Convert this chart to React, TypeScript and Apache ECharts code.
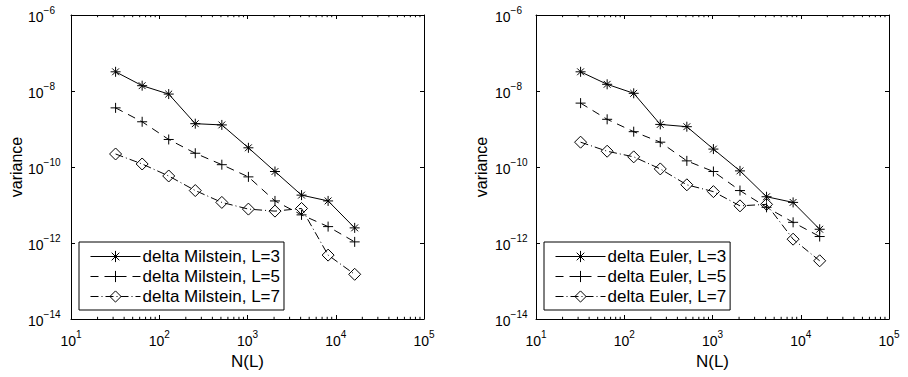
import React, { useEffect, useRef } from "react";
import * as echarts from "echarts";

const N_VALUES = [32, 64, 128, 256, 512, 1024, 2048, 4096, 8192, 16384];

const MIL_L3 = [3.2e-8, 1.38e-8, 8.3e-9, 1.38e-9, 1.28e-9, 3.2e-10, 7.6e-11, 1.82e-11, 1.28e-11, 2.5e-12];
const MIL_L5 = [3.6e-9, 1.55e-9, 5.3e-10, 2.3e-10, 1.15e-10, 5.5e-11, 1.28e-11, 5.5e-12, 2.7e-12, 1.07e-12];
const MIL_L7 = [2.2e-10, 1.2e-10, 5.8e-11, 2.4e-11, 1.17e-11, 7.8e-12, 6.9e-12, 8.1e-12, 4.8e-13, 1.5e-13];

const EUL_L3 = [3.2e-8, 1.5e-8, 8.7e-9, 1.32e-9, 1.15e-9, 2.96e-10, 7.9e-11, 1.65e-11, 1.17e-11, 2.3e-12];
const EUL_L5 = [4.8e-9, 1.8e-9, 8.5e-10, 4.5e-10, 1.45e-10, 7.6e-11, 2.4e-11, 8.7e-12, 3.5e-12, 1.48e-12];
const EUL_L7 = [4.5e-10, 2.6e-10, 1.85e-10, 8.9e-11, 3.4e-11, 2.25e-11, 9.5e-12, 1.04e-11, 1.26e-12, 3.4e-13];

const MIL_NAMES = ["delta Milstein, L=3", "delta Milstein, L=5", "delta Milstein, L=7"];
const EUL_NAMES = ["delta Euler, L=3", "delta Euler, L=5", "delta Euler, L=7"];

const X_MIN = 10;
const X_MAX = 1e5;
const Y_MIN = 1e-14;
const Y_MAX = 1e-6;
const Y_DECADE_STEP = 2;
const X_MINOR_MULTIPLIERS = [2, 3, 4, 5, 6, 7, 8, 9];
const X_DECADES = [10, 100, 1000, 10000];

const X_LABEL = "N(L)";
const Y_LABEL = "variance";

const FONT = "'Liberation Sans', Arial, Helvetica, sans-serif";

const STAR = "path://M0,5L10,5M5,0L5,10M1.6,1.6L8.4,8.4M8.4,1.6L1.6,8.4";
const PLUS = "path://M0,5L10,5M5,0L5,10";

const minorTicks: number[][] = [];
X_DECADES.forEach((d) => X_MINOR_MULTIPLIERS.forEach((m) => minorTicks.push([d * m, Y_MIN])));

const powLabel = (v: number) => {
  const e = Math.round(Math.log10(v));
  const s = e < 0 ? "\u2212" + Math.abs(e) : String(e);
  return `{b|10}{s|${s}}`;
};

const rich = {
  b: { fontSize: 14, fontFamily: FONT, color: "#000", padding: [4, 0, 0, 0] },
  s: { fontSize: 10, fontFamily: FONT, color: "#000", padding: [0, 0, 10, 0] },
};

const axisLineStyle = { show: true, onZero: false, lineStyle: { color: "#000", width: 1 } };

function buildAxes(grid: number, yLabelMargin: number) {
  const xBottom = {
    gridIndex: grid,
    type: "log",
    logBase: 10,
    min: X_MIN,
    max: X_MAX,
    position: "bottom",
    axisLine: axisLineStyle,
    axisTick: { show: true, inside: true, length: 4, lineStyle: { color: "#000" } },
    axisLabel: { formatter: powLabel, rich, margin: 10, align: "center" },
    splitLine: { show: false },
    name: X_LABEL,
    nameLocation: "middle",
    nameGap: 34,
    nameTextStyle: { fontSize: 17, fontFamily: FONT, color: "#000" },
  };
  const xTop = {
    gridIndex: grid,
    type: "log",
    logBase: 10,
    min: X_MIN,
    max: X_MAX,
    position: "top",
    axisLine: axisLineStyle,
    axisTick: { show: true, inside: true, length: 4, lineStyle: { color: "#000" } },
    axisLabel: { show: false },
    splitLine: { show: false },
  };
  const yLeft = {
    gridIndex: grid,
    type: "log",
    logBase: 10,
    min: Y_MIN,
    max: Y_MAX,
    interval: Y_DECADE_STEP,
    position: "left",
    axisLine: axisLineStyle,
    axisTick: { show: true, inside: true, length: 4, lineStyle: { color: "#000" } },
    axisLabel: { formatter: powLabel, rich, margin: yLabelMargin, align: "left" },
    splitLine: { show: false },
    name: Y_LABEL,
    nameLocation: "middle",
    nameGap: 47,
    nameRotate: 90,
    nameTextStyle: { fontSize: 16, fontFamily: FONT, color: "#000" },
  };
  const yRight = {
    gridIndex: grid,
    type: "log",
    logBase: 10,
    min: Y_MIN,
    max: Y_MAX,
    interval: Y_DECADE_STEP,
    position: "right",
    axisLine: axisLineStyle,
    axisTick: { show: true, inside: true, length: 4, lineStyle: { color: "#000" } },
    axisLabel: { show: false },
    splitLine: { show: false },
  };
  return { x: [xBottom, xTop], y: [yLeft, yRight] };
}

function lineSeries(name: string, values: number[], axisIdx: number, symbol: string, dash: any, size: number) {
  return {
    type: "line",
    name,
    xAxisIndex: axisIdx,
    yAxisIndex: axisIdx,
    data: N_VALUES.map((n, i) => [n, values[i]]),
    symbol,
    symbolSize: size,
    showAllSymbol: true,
    lineStyle: { color: "#000", width: 1, type: dash },
    itemStyle: { color: "transparent", borderColor: "#000", borderWidth: 1 },
    emphasis: { disabled: true },
    z: 3,
  };
}

function minorSeries(axisIdx: number) {
  return {
    type: "custom",
    xAxisIndex: axisIdx,
    yAxisIndex: axisIdx,
    silent: true,
    clip: false,
    data: minorTicks,
    z: 4,
    renderItem: (_p: any, api: any) => {
      const x = api.value(0);
      const b = api.coord([x, Y_MIN]);
      const t = api.coord([x, Y_MAX]);
      return {
        type: "group",
        children: [
          { type: "line", shape: { x1: b[0], y1: b[1], x2: b[0], y2: b[1] - 2.2 }, style: { stroke: "#000", lineWidth: 1 } },
          { type: "line", shape: { x1: t[0], y1: t[1], x2: t[0], y2: t[1] + 2.2 }, style: { stroke: "#000", lineWidth: 1 } },
        ],
      };
    },
  };
}

function legendCfg(names: string[], left: number) {
  return {
    data: names,
    left,
    top: 242,
    orient: "vertical",
    backgroundColor: "#fff",
    borderColor: "#000",
    borderWidth: 1,
    borderRadius: 0,
    padding: [6, 4, 5, 11],
    itemGap: 3,
    itemWidth: 50,
    itemHeight: 14,
    selectedMode: false,
    textStyle: { fontSize: 17, fontFamily: FONT, color: "#000", padding: [0, 0, 0, -3] },
    itemStyle: { color: "transparent", borderColor: "#000", borderWidth: 1 },
    lineStyle: { width: 1, color: "#000", type: "inherit" },
  };
}

const DASHED = [8, 6];
const DASHDOT = [8, 3, 1, 3];

export default function App() {
  const ref = useRef<HTMLDivElement>(null);
  useEffect(() => {
    if (!ref.current) return;
    const chart = echarts.init(ref.current, null, { renderer: "svg" });
    const a0 = buildAxes(0, 43);
    const a1 = buildAxes(1, 41);
    chart.setOption({
      animation: false,
      backgroundColor: "#fff",
      grid: [
        { left: 71, top: 15, width: 353, height: 304 },
        { left: 536, top: 15, width: 353, height: 304 },
      ],
      xAxis: [...a0.x, ...a1.x],
      yAxis: [...a0.y, ...a1.y],
      legend: [legendCfg(MIL_NAMES, 79), legendCfg(EUL_NAMES, 544)],
      series: [
        lineSeries(MIL_NAMES[0], MIL_L3, 0, STAR, "solid", 10),
        lineSeries(MIL_NAMES[1], MIL_L5, 0, PLUS, DASHED, 10),
        lineSeries(MIL_NAMES[2], MIL_L7, 0, "diamond", DASHDOT, 12),
        lineSeries(EUL_NAMES[0], EUL_L3, 2, STAR, "solid", 10),
        lineSeries(EUL_NAMES[1], EUL_L5, 2, PLUS, DASHED, 10),
        lineSeries(EUL_NAMES[2], EUL_L7, 2, "diamond", DASHDOT, 12),
        minorSeries(0),
        minorSeries(2),
      ],
    });
    return () => chart.dispose();
  }, []);
  return <div ref={ref} style={{ position: "fixed", left: 0, top: 0, width: 908, height: 377 }} />;
}
